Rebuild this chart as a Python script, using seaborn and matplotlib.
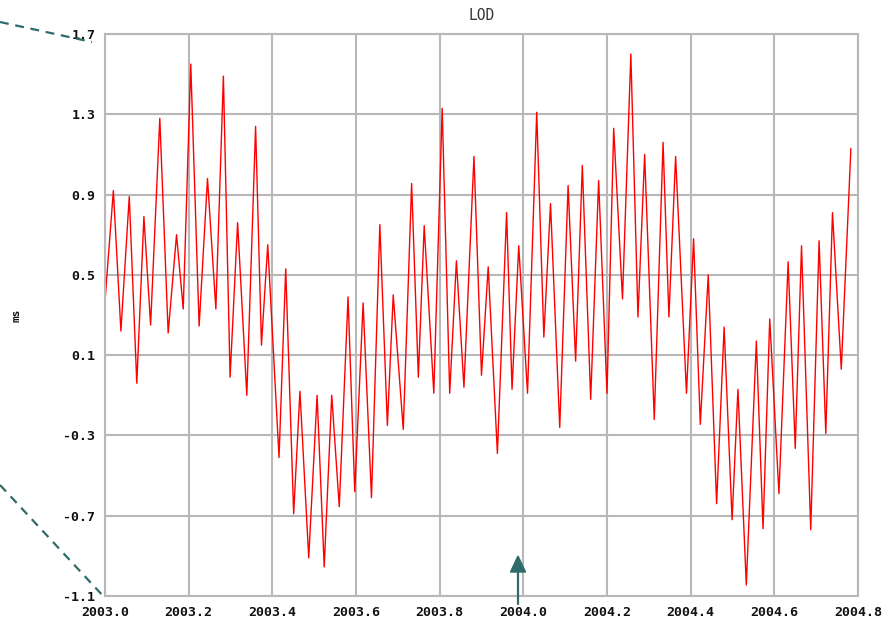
import matplotlib
matplotlib.use("Agg")
import matplotlib.pyplot as plt
import seaborn as sns
import pandas as pd
import numpy as np
from matplotlib.lines import Line2D

# --- data (turning points) ---
years = [2003.000, 2003.020, 2003.038, 2003.058, 2003.076, 2003.093, 2003.109, 2003.131,
         2003.151, 2003.171, 2003.187, 2003.205, 2003.225, 2003.245, 2003.265, 2003.283,
         2003.299, 2003.317, 2003.339, 2003.360, 2003.374, 2003.389, 2003.416, 2003.432,
         2003.451, 2003.466, 2003.487, 2003.507, 2003.524, 2003.542, 2003.560, 2003.581,
         2003.597, 2003.617, 2003.637, 2003.657, 2003.675, 2003.689, 2003.713, 2003.733,
         2003.749, 2003.763, 2003.786, 2003.806, 2003.824, 2003.840, 2003.858, 2003.882,
         2003.900, 2003.916, 2003.938, 2003.960, 2003.973, 2003.989, 2004.010, 2004.032,
         2004.049, 2004.065, 2004.087, 2004.107, 2004.125, 2004.141, 2004.161, 2004.180,
         2004.200, 2004.216, 2004.237, 2004.257, 2004.274, 2004.290, 2004.313, 2004.334,
         2004.348, 2004.364, 2004.390, 2004.407, 2004.423, 2004.442, 2004.462, 2004.480,
         2004.499, 2004.513, 2004.533, 2004.557, 2004.573, 2004.589, 2004.611, 2004.633,
         2004.650, 2004.665, 2004.687, 2004.707, 2004.723, 2004.739, 2004.760, 2004.783]
lod_ms = [0.37, 0.92, 0.22, 0.89, -0.04, 0.79, 0.25, 1.28,
          0.21, 0.70, 0.33, 1.55, 0.245, 0.98, 0.33, 1.49,
          -0.01, 0.76, -0.10, 1.24, 0.15, 0.65, -0.41, 0.53,
          -0.69, -0.08, -0.91, -0.10, -0.955, -0.10, -0.655, 0.39,
          -0.58, 0.36, -0.61, 0.75, -0.25, 0.40, -0.27, 0.955,
          -0.01, 0.745, -0.09, 1.33, -0.09, 0.57, -0.06, 1.09,
          0.0, 0.54, -0.39, 0.81, -0.07, 0.645, -0.09, 1.31,
          0.19, 0.855, -0.26, 0.945, 0.07, 1.045, -0.12, 0.97,
          -0.09, 1.23, 0.38, 1.60, 0.29, 1.10, -0.22, 1.16,
          0.29, 1.09, -0.09, 0.68, -0.245, 0.50, -0.64, 0.24,
          -0.72, -0.07, -1.045, 0.17, -0.765, 0.28, -0.59, 0.565,
          -0.365, 0.645, -0.77, 0.67, -0.29, 0.81, 0.03, 1.13]

x_ticks = [2003.0, 2003.2, 2003.4, 2003.6, 2003.8, 2004.0, 2004.2, 2004.4, 2004.6, 2004.8]
y_ticks = [-1.1, -0.7, -0.3, 0.1, 0.5, 0.9, 1.3, 1.7]
x_tick_labels = ["2003.0", "2003.2", "2003.4", "2003.6", "2003.8",
                 "2004.0", "2004.2", "2004.4", "2004.6", "2004.8"]
y_tick_labels = ["-1.1", "-0.7", "-0.3", "0.1", "0.5", "0.9", "1.3", "1.7"]

df = pd.DataFrame({"year": years, "LOD": lod_ms})

sns.set_style("white")
plt.rcParams["font.family"] = ["DejaVu Sans Mono", "DejaVu Sans"]

W, H = 894, 621
fig = plt.figure(figsize=(W / 100, H / 100), dpi=100)
ax = fig.add_axes([105 / W, 1 - 596 / H, (858 - 105) / W, (596 - 34) / H])

grid_col = "#b8b8b8"
for xv in x_ticks:
    ax.axvline(xv, color=grid_col, lw=1.5, zorder=0)
for yv in y_ticks:
    ax.axhline(yv, color=grid_col, lw=1.5, zorder=0)

sns.lineplot(data=df, x="year", y="LOD", ax=ax, color="#ff0000", lw=1.0,
             estimator=None, sort=False, legend=False)

ax.set_xlim(2003.0, 2004.8)
ax.set_ylim(-1.1, 1.7)
ax.set_xticks(x_ticks)
ax.set_xticklabels(x_tick_labels)
ax.set_yticks(y_ticks)
ax.set_yticklabels(y_tick_labels)
ax.tick_params(axis="both", length=0, labelsize=9.5, colors="#111111")
ax.tick_params(axis="x", pad=7)
ax.tick_params(axis="y", pad=7)
for lab in ax.get_xticklabels() + ax.get_yticklabels():
    lab.set_fontweight("bold")
for s in ax.spines.values():
    s.set_color(grid_col)
    s.set_linewidth(1.5)

ax.set_xlabel("")
ax.set_ylabel("ms", fontsize=8, fontweight="bold", color="#111111")
ax.yaxis.set_label_coords((22 - 105) / 753, 0.5)
ax.set_title("LOD", fontsize=10.5, color="#333333", pad=10)

# teal call-out lines and arrow (figure pixel coordinates)
teal = "#2f6b6b"
def fx(p):
    return p / W
def fy(p):
    return 1 - p / H
fig.add_artist(Line2D([fx(0), fx(92)], [fy(22), fy(42)], color=teal, lw=1.6,
                      ls=(0, (4, 3))))
fig.add_artist(Line2D([fx(0), fx(105)], [fy(485), fy(598)], color=teal, lw=1.6,
                      ls=(0, (4, 3))))
fig.add_artist(Line2D([fx(518), fx(518)], [fy(604), fy(570)], color=teal, lw=1.6))
fig.patches.append(plt.Polygon([[fx(510.5), fy(572)], [fx(525.5), fy(572)], [fx(518), fy(556)]],
                               closed=True, color=teal, transform=fig.transFigure,
                               figure=fig))

fig.savefig("out.png", dpi=100)
